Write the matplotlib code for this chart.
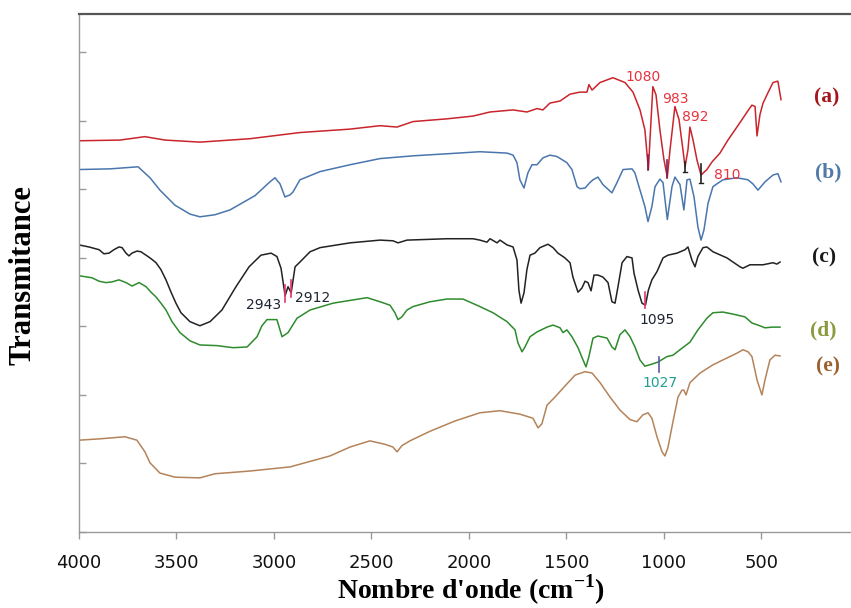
import matplotlib
matplotlib.use("Agg")
import matplotlib.pyplot as plt

plt.rcParams["mathtext.fontset"] = "custom"
plt.rcParams["mathtext.rm"] = "Liberation Serif"
plt.rcParams["mathtext.bf"] = "Liberation Serif:bold"

# FTIR spectra (wavenumber in cm-1, offset transmittance in arbitrary units)
wn_a = [4000, 3790, 3662, 3559, 3380, 3123, 2867, 2610, 2456, 2369, 2287, 2113, 1980, 1892,
        1774, 1703, 1651, 1621, 1585, 1533, 1482, 1431, 1395, 1385, 1369, 1328, 1262, 1200,
        1159, 1123, 1098, 1080, 1072, 1057, 1041, 1021, 1000, 983, 969, 944, 923, 903, 892,
        877, 867, 851, 831, 810, 780, 754, 713, 672, 626, 595, 569, 549, 533, 523, 508, 492,
        467, 441, 416, 400]
t_a = [57.1, 57.2, 57.7, 57.2, 56.9, 57.4, 58.3, 58.8, 59.3, 59.1, 59.9, 60.3, 60.7, 61.3,
       61.6, 61.3, 61.8, 61.6, 62.6, 62.9, 63.9, 64.2, 64.2, 65.3, 64.5, 65.6, 66.3, 65.6,
       64.2, 61.6, 58.7, 52.9, 57.2, 65.0, 63.8, 58.7, 54.3, 51.8, 55.8, 62.1, 60.2, 55.8, 53.3,
       55.8, 59.1, 57.2, 54.3, 52.1, 52.9, 54.0, 55.3, 57.2, 59.1, 60.4, 61.5, 62.3, 62.1, 57.8,
       60.9, 62.6, 64.1, 65.6, 65.8, 63.1]

wn_b = [4000, 3841, 3697, 3636, 3585, 3508, 3431, 3380, 3303, 3226, 3097, 3021, 2995, 2969,
        2944, 2918, 2903, 2867, 2764, 2610, 2456, 2287, 2113, 1944, 1805, 1774, 1754, 1739,
        1718, 1698, 1677, 1651, 1621, 1585, 1549, 1498, 1472, 1446, 1431, 1405, 1380, 1364,
        1339, 1313, 1267, 1241, 1210, 1164, 1149, 1123, 1098, 1082, 1062, 1046, 1021, 1005,
        983, 959, 944, 918, 898, 882, 867, 846, 826, 810, 795, 774, 749, 698, 626, 569, 544,
        518, 482, 441, 416, 400]
t_b = [52.9, 53.0, 53.3, 51.7, 49.9, 47.7, 46.4, 46.0, 46.3, 47.0, 49.1, 51.1, 51.7, 50.8,
       48.9, 49.2, 49.6, 51.4, 52.6, 53.6, 54.5, 54.9, 55.2, 55.5, 55.3, 55.0, 53.9, 51.4,
       50.2, 52.4, 53.6, 53.6, 54.6, 55.0, 54.8, 53.9, 52.9, 50.4, 50.1, 50.2, 51.0, 51.4,
       51.8, 50.7, 49.5, 51.0, 52.9, 53.0, 52.4, 49.9, 47.5, 45.3, 47.5, 50.4, 51.5, 51.0,
       45.6, 50.4, 51.8, 50.7, 47.0, 51.4, 51.5, 48.9, 44.5, 42.6, 44.1, 48.0, 50.4, 51.4,
       51.7, 51.4, 50.8, 49.9, 51.1, 52.1, 52.3, 51.1]

wn_c = [4000, 3949, 3897, 3872, 3846, 3821, 3795, 3779, 3759, 3744, 3728, 3703, 3682, 3667,
        3651, 3631, 3605, 3580, 3554, 3528, 3503, 3477, 3431, 3380, 3328, 3267, 3195, 3128,
        3067, 3015, 2985, 2964, 2943, 2928, 2912, 2892, 2867, 2815, 2764, 2610, 2456, 2390,
        2364, 2318, 2113, 1980, 1944, 1908, 1892, 1856, 1841, 1805, 1774, 1754, 1744, 1733,
        1718, 1703, 1687, 1662, 1636, 1595, 1569, 1544, 1523, 1508, 1482, 1467, 1441, 1421,
        1405, 1390, 1374, 1359, 1339, 1313, 1287, 1267, 1251, 1236, 1215, 1190, 1164, 1154,
        1133, 1113, 1095, 1080, 1062, 1036, 1005, 980, 933, 892, 877, 857, 841, 826, 800,
        780, 749, 677, 610, 595, 559, 492, 441, 421, 405]
t_c = [41.9, 41.6, 41.2, 40.6, 40.7, 41.2, 41.6, 41.5, 40.7, 40.3, 40.7, 41.0, 40.9, 40.6,
       40.3, 39.9, 39.3, 38.3, 36.8, 35.0, 33.4, 32.0, 30.7, 30.1, 30.7, 32.4, 35.8, 38.7,
       40.4, 40.7, 40.2, 38.5, 34.5, 35.8, 34.9, 38.7, 39.4, 40.9, 41.5, 42.2, 42.6, 42.5,
       42.2, 42.6, 42.8, 42.8, 42.6, 42.3, 42.8, 42.2, 42.6, 41.9, 41.6, 39.7, 35.3, 33.4,
       34.9, 38.3, 40.4, 40.7, 41.5, 42.0, 41.5, 40.7, 40.3, 40.0, 39.3, 37.2, 35.0, 35.6,
       36.6, 36.4, 35.2, 37.5, 37.5, 37.2, 36.4, 33.6, 33.4, 35.8, 39.3, 40.2, 40.0, 37.8,
       35.3, 33.4, 33.1, 35.3, 36.8, 38.0, 40.0, 40.4, 40.7, 41.2, 41.6, 39.7, 38.7, 40.2,
       41.5, 41.6, 40.9, 40.0, 38.7, 38.5, 39.0, 39.0, 39.3, 39.1, 39.4]

wn_d = [4000, 3933, 3897, 3862, 3831, 3795, 3759, 3728, 3692, 3656, 3631, 3605, 3580, 3554,
        3523, 3482, 3431, 3380, 3292, 3210, 3138, 3087, 3062, 3036, 2985, 2959, 2928, 2882,
        2815, 2697, 2523, 2456, 2405, 2380, 2364, 2344, 2318, 2287, 2200, 2113, 2031, 1944,
        1877, 1805, 1764, 1749, 1728, 1713, 1687, 1651, 1600, 1569, 1533, 1518, 1498, 1472,
        1441, 1415, 1400, 1385, 1364, 1339, 1292, 1267, 1251, 1226, 1200, 1174, 1149, 1123,
        1098, 1062, 1031, 985, 954, 918, 867, 826, 780, 749, 698, 646, 585, 549, 518, 482,
        446, 405]
t_d = [37.4, 37.1, 36.6, 36.4, 36.5, 36.8, 36.4, 35.9, 36.4, 35.8, 35.0, 34.3, 33.4, 32.4,
       30.7, 29.1, 27.9, 27.3, 27.2, 26.9, 27.0, 28.5, 30.1, 31.0, 31.0, 28.5, 29.1, 31.2,
       32.4, 33.4, 34.2, 33.6, 33.1, 32.0, 31.0, 31.4, 32.4, 32.9, 33.6, 34.0, 34.0, 32.9,
       32.0, 30.7, 29.5, 27.6, 26.3, 27.0, 28.5, 29.2, 29.9, 30.2, 29.8, 29.1, 29.5, 28.5,
       26.9, 25.1, 24.1, 25.6, 28.3, 28.6, 28.3, 27.0, 26.6, 28.8, 29.5, 28.5, 27.0, 25.1,
       24.2, 24.5, 24.8, 25.6, 25.8, 26.6, 27.7, 29.5, 31.2, 32.0, 32.1, 31.8, 31.4, 30.5,
       30.2, 29.8, 29.9, 29.9]

wn_e = [4000, 3892, 3764, 3703, 3662, 3636, 3585, 3508, 3380, 3303, 3123, 2918, 2713, 2610,
        2508, 2431, 2390, 2369, 2344, 2303, 2200, 2072, 1944, 1841, 1739, 1672, 1646, 1626,
        1600, 1559, 1508, 1456, 1405, 1369, 1328, 1277, 1226, 1174, 1139, 1108, 1082, 1062,
        1036, 1010, 995, 980, 954, 928, 908, 898, 887, 867, 815, 749, 677, 626, 595, 569, 549,
        523, 498, 482, 457, 431, 405]
t_e = [13.4, 13.6, 13.9, 13.4, 11.7, 10.1, 8.6, 8.0, 7.9, 8.5, 8.9, 9.5, 11.1, 12.4,
       13.3, 12.8, 12.4, 11.7, 12.6, 13.3, 14.7, 16.2, 17.4, 17.7, 17.2, 16.6, 15.2, 15.8,
       18.5, 19.7, 21.3, 22.9, 23.4, 23.2, 21.8, 19.7, 17.8, 16.4, 16.1, 17.1, 17.4, 16.6,
       13.9, 11.7, 11.1, 12.3, 16.1, 19.7, 20.7, 20.7, 20.0, 21.8, 23.2, 24.4, 25.4, 26.1,
       26.6, 26.3, 25.6, 22.2, 20.0, 22.2, 25.1, 25.8, 25.7]

series = [
    (wn_a, t_a, "#C9252C", "(a)", "#A3161B"),
    (wn_b, t_b, "#4A76AE", "(b)", "#4F79A8"),
    (wn_c, t_c, "#222222", "(c)", "#1A1A1A"),
    (wn_d, t_d, "#2E8B2E", "(d)", "#8A9A3C"),
    (wn_e, t_e, "#B5835A", "(e)", "#9A5F2E"),
]
# right-hand sample labels (figure fractions)
label_pos = [(0.971, 0.840), (0.973, 0.717), (0.968, 0.577), (0.967, 0.457), (0.973, 0.398)]

# band assignments: wavenumber, marker span, text position, text colour, marker colour
bands = [1080, 983, 892, 810, 2943, 2912, 1095, 1027]
band_span = [(55.0, 52.9), (54.3, 51.7), (54.0, 52.6), (53.7, 51.0),
             (36.1, 33.6), (36.8, 34.3), (35.0, 32.7), (25.6, 23.4)]
band_text = [(1108, 66.4), (944, 63.2), (841, 60.6), (677, 52.1),
             (3056, 33.1), (2800, 34.2), (1036, 31.0), (1021, 21.8)]
band_tcol = ["#E8333F", "#E8333F", "#E8333F", "#E8333F",
             "#1E2433", "#1E2433", "#1E2433", "#1FA08E"]
band_mcol = ["#7A1E5A", "#7A1E5A", "#222222", "#222222",
             "#E8336A", "#E8336A", "#E8336A", "#5A5AA8"]

fig = plt.figure(figsize=(8.51, 6.08), dpi=100)
ax = fig.add_axes([79 / 851, 76 / 608, 1 - 79 / 851, 518 / 608])

for wn, t, col, lab, lcol in series:
    ax.plot(wn, t, color=col, lw=1.1, solid_joinstyle="round")

for wn, (y0, y1), (tx, ty), tc, mc in zip(bands, band_span, band_text, band_tcol, band_mcol):
    ax.plot([wn, wn], [y0, y1], color=mc, lw=1.2)
    if mc == "#222222":
        ax.plot([wn - 8, wn + 8], [y1, y1], color=mc, lw=1.0)
    ax.text(tx, ty, str(wn), color=tc, fontsize=10, ha="center", va="center",
            family="DejaVu Sans")

for (wn, t, col, lab, lcol), (fx, fy) in zip(series, label_pos):
    fig.text(fx, fy, lab, color=lcol, fontsize=15.5, fontweight="bold",
             family="Liberation Serif", ha="center", va="center")

ax.set_xlim(4000, 41)
ax.set_ylim(0, 75.6)
ax.set_xticks([4000, 3500, 3000, 2500, 2000, 1500, 1000, 500])
ax.set_yticks([0, 10, 20, 30, 40, 50, 60, 70])
ax.set_yticklabels([])
ax.tick_params(axis="x", direction="out", length=5, width=1, color="#999999",
               labelsize=13, pad=11, labelcolor="#111111")
ax.tick_params(axis="y", direction="in", length=5, width=1, color="#999999")
ax.spines["right"].set_visible(False)
ax.spines["top"].set_color("#555555")
ax.spines["top"].set_linewidth(1.6)
for s in ("left", "bottom"):
    ax.spines[s].set_color("#999999")
    ax.spines[s].set_linewidth(1.0)

fig.text(471 / 851, 1 - 599 / 608, r"Nombre d'onde (cm$^{\mathbf{-1}}$)",
         fontsize=20, fontweight="bold", family="Liberation Serif",
         ha="center", va="baseline")
fig.text(23 / 851, 1 - 275 / 608, "Transmitance", rotation=90,
         fontsize=22, fontweight="bold", family="Liberation Serif",
         ha="center", va="center")

fig.savefig("out.png", dpi=100)
